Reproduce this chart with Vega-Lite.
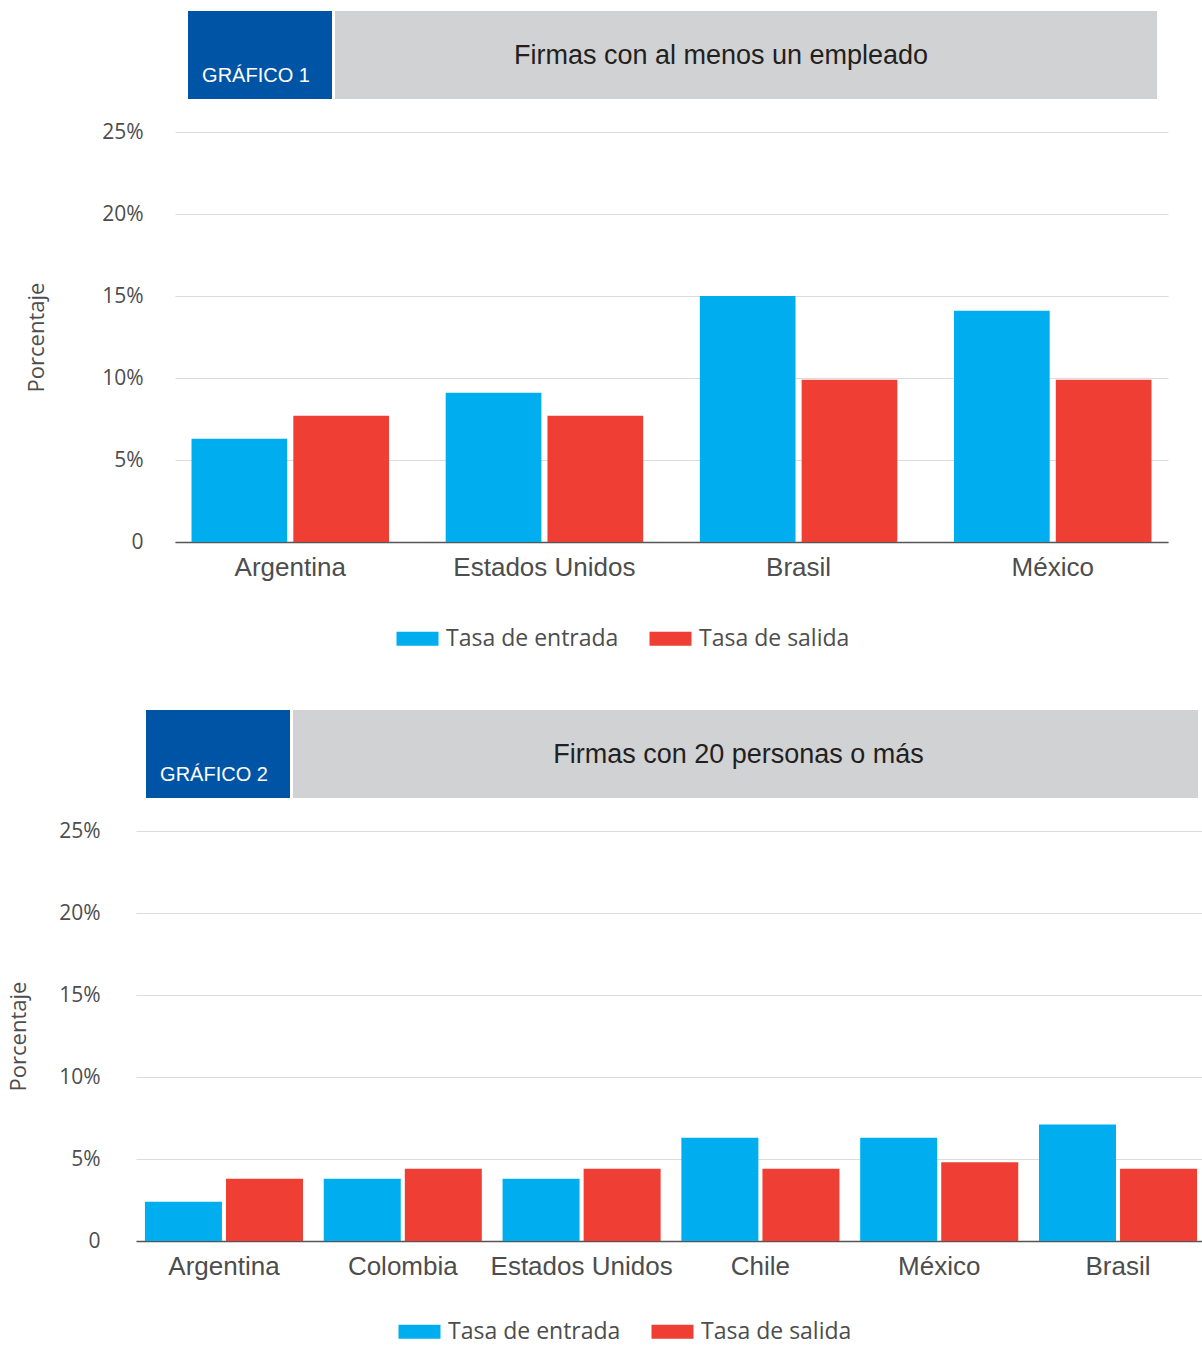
{
  "$schema": "https://vega.github.io/schema/vega-lite/v6.json",
  "background": "white",
  "padding": {"top": 11, "left": 0, "right": 0, "bottom": 0},
  "config": {"view": {"stroke": null}, "font": "Open Sans"},
  "datasets": {
    "g1": [
      {"pais": "Argentina", "serie": "Tasa de entrada", "valor": 6.3},
      {"pais": "Argentina", "serie": "Tasa de salida", "valor": 7.7},
      {"pais": "Estados Unidos", "serie": "Tasa de entrada", "valor": 9.1},
      {"pais": "Estados Unidos", "serie": "Tasa de salida", "valor": 7.7},
      {"pais": "Brasil", "serie": "Tasa de entrada", "valor": 15.0},
      {"pais": "Brasil", "serie": "Tasa de salida", "valor": 9.9},
      {"pais": "México", "serie": "Tasa de entrada", "valor": 14.1},
      {"pais": "México", "serie": "Tasa de salida", "valor": 9.9}
    ],
    "g2": [
      {"pais": "Argentina", "serie": "Tasa de entrada", "valor": 2.4},
      {"pais": "Argentina", "serie": "Tasa de salida", "valor": 3.8},
      {"pais": "Colombia", "serie": "Tasa de entrada", "valor": 3.8},
      {"pais": "Colombia", "serie": "Tasa de salida", "valor": 4.4},
      {"pais": "Estados Unidos", "serie": "Tasa de entrada", "valor": 3.8},
      {"pais": "Estados Unidos", "serie": "Tasa de salida", "valor": 4.4},
      {"pais": "Chile", "serie": "Tasa de entrada", "valor": 6.3},
      {"pais": "Chile", "serie": "Tasa de salida", "valor": 4.4},
      {"pais": "México", "serie": "Tasa de entrada", "valor": 6.3},
      {"pais": "México", "serie": "Tasa de salida", "valor": 4.8},
      {"pais": "Brasil", "serie": "Tasa de entrada", "valor": 7.1},
      {"pais": "Brasil", "serie": "Tasa de salida", "valor": 4.4}
    ],
    "h1": [{"t": "GRÁFICO 1"}],
    "t1": [{"t": "Firmas con al menos un empleado"}],
    "h2": [{"t": "GRÁFICO 2"}],
    "t2": [{"t": "Firmas con 20 personas o más"}],
    "blank": []
  },
  "resolve": {"scale": {"color": "independent", "xOffset": "independent", "x": "independent", "y": "independent"}, "legend": {"color": "independent"}},
  "spacing": 59,
  "vconcat": [
    {
      "spacing": 0,
      "resolve": {"scale": {"color": "independent", "xOffset": "independent"}, "legend": {"color": "independent"}},
      "hconcat": [
        {"width": 25, "height": 1, "data": {"name": "blank"}, "mark": {"type": "point", "opacity": 0}, "encoding": {}},
        {
          "spacing": 22,
          "resolve": {"scale": {"color": "independent", "xOffset": "independent"}, "legend": {"color": "independent"}},
          "vconcat": [
            {
              "spacing": 3,
              "hconcat": [
                {"width": 10, "height": 88, "data": {"name": "blank"}, "mark": {"type": "point", "opacity": 0}, "encoding": {}},
                {"width": 144, "height": 88, "view": {"fill": "#0054a6", "stroke": null}, "data": {"name": "h1"},
                 "mark": {"type": "text", "color": "white", "font": "Liberation Sans", "fontSize": 20, "dx": -4, "dy": 21},
                 "encoding": {"text": {"field": "t"}}},
                {"width": 822, "height": 88, "view": {"fill": "#d1d2d4", "stroke": null}, "data": {"name": "t1"},
                 "mark": {"type": "text", "color": "#231f20", "font": "Liberation Sans", "fontSize": 27, "dx": -25, "dy": 1},
                 "encoding": {"text": {"field": "t"}}}
              ]
            },
            {
              "width": 993, "height": 410,
              "data": {"name": "g1"},
              "mark": {"type": "bar"},
              "encoding": {
                "x": {"field": "pais", "type": "nominal", "sort": ["Argentina", "Estados Unidos", "Brasil", "México"],
                      "scale": {"paddingInner": 0.223, "paddingOuter": 0.065},
                      "axis": {"title": null, "labelAngle": 0, "labelFont": "Liberation Sans", "labelFontSize": 26, "labelColor": "#4d4d4d", "labelPadding": 12, "labelLimit": 400, "ticks": false, "domainColor": "#555555", "domainWidth": 1.5, "grid": false}},
                "xOffset": {"field": "serie", "type": "nominal", "sort": ["Tasa de entrada", "Tasa de salida"], "scale": {"paddingInner": 0.06}},
                "y": {"field": "valor", "type": "quantitative", "scale": {"domain": [0, 25]},
                      "axis": {"title": "Porcentaje", "values": [0, 5, 10, 15, 20, 25], "labelExpr": "datum.value == 0 ? '0' : datum.value + '%'",
                               "labelFont": "Open Sans", "labelFontSize": 21, "labelColor": "#4d4d4d", "labelPadding": 32, "ticks": false, "domain": false,
                               "gridColor": "#dcdcdc", "gridWidth": 1.2,
                               "titleFont": "Open Sans", "titleFontSize": 22, "titleFontWeight": "normal", "titleColor": "#4d4d4d", "titlePadding": 53}},
                "color": {"field": "serie", "type": "nominal", "sort": ["Tasa de entrada", "Tasa de salida"],
                          "scale": {"domain": ["Tasa de entrada", "Tasa de salida"], "range": ["#00aeef", "#ef3e33"]},
                          "legend": {"title": null, "orient": "none", "direction": "horizontal", "legendX": 231, "legendY": 495, "padding": 0,
                                     "symbolType": "M-3,-1H3V1H-3Z", "symbolSize": 196, "symbolStrokeWidth": 0, "symbolOpacity": 1,
                                     "labelFont": "Open Sans", "labelFontSize": 23, "labelColor": "#4d4d4d", "labelOffset": 17, "labelLimit": 400, "columnPadding": 30}}
              }
            }
          ]
        }
      ]
    },
    {
      "spacing": 0,
      "resolve": {"scale": {"color": "independent", "xOffset": "independent"}, "legend": {"color": "independent"}},
      "hconcat": [
        {"width": 7, "height": 1, "data": {"name": "blank"}, "mark": {"type": "point", "opacity": 0}, "encoding": {}},
        {
          "spacing": 22,
          "resolve": {"scale": {"color": "independent", "xOffset": "independent"}, "legend": {"color": "independent"}},
          "vconcat": [
            {
              "spacing": 3,
              "hconcat": [
                {"width": 7, "height": 88, "data": {"name": "blank"}, "mark": {"type": "point", "opacity": 0}, "encoding": {}},
                {"width": 144, "height": 88, "view": {"fill": "#0054a6", "stroke": null}, "data": {"name": "h2"},
                 "mark": {"type": "text", "color": "white", "font": "Liberation Sans", "fontSize": 20, "dx": -4, "dy": 21},
                 "encoding": {"text": {"field": "t"}}},
                {"width": 905, "height": 88, "view": {"fill": "#d1d2d4", "stroke": null}, "data": {"name": "t2"},
                 "mark": {"type": "text", "color": "#231f20", "font": "Liberation Sans", "fontSize": 27, "dx": -7, "dy": 1},
                 "encoding": {"text": {"field": "t"}}}
              ]
            },
            {
              "width": 1070, "height": 410,
              "data": {"name": "g2"},
              "mark": {"type": "bar"},
              "encoding": {
                "x": {"field": "pais", "type": "nominal", "sort": ["Argentina", "Colombia", "Estados Unidos", "Chile", "México", "Brasil"],
                      "scale": {"paddingInner": 0.116, "paddingOuter": 0.05},
                      "axis": {"title": null, "labelAngle": 0, "labelFont": "Liberation Sans", "labelFontSize": 26, "labelColor": "#4d4d4d", "labelPadding": 12, "labelLimit": 400, "ticks": false, "domainColor": "#555555", "domainWidth": 1.5, "grid": false}},
                "xOffset": {"field": "serie", "type": "nominal", "sort": ["Tasa de entrada", "Tasa de salida"], "scale": {"paddingInner": 0.05}},
                "y": {"field": "valor", "type": "quantitative", "scale": {"domain": [0, 25]},
                      "axis": {"title": "Porcentaje", "values": [0, 5, 10, 15, 20, 25], "labelExpr": "datum.value == 0 ? '0' : datum.value + '%'",
                               "labelFont": "Open Sans", "labelFontSize": 21, "labelColor": "#4d4d4d", "labelPadding": 36, "ticks": false, "domain": false,
                               "gridColor": "#dcdcdc", "gridWidth": 1.2,
                               "titleFont": "Open Sans", "titleFontSize": 22, "titleFontWeight": "normal", "titleColor": "#4d4d4d", "titlePadding": 28}},
                "color": {"field": "serie", "type": "nominal", "sort": ["Tasa de entrada", "Tasa de salida"],
                          "scale": {"domain": ["Tasa de entrada", "Tasa de salida"], "range": ["#00aeef", "#ef3e33"]},
                          "legend": {"title": null, "orient": "none", "direction": "horizontal", "legendX": 272, "legendY": 489, "padding": 0,
                                     "symbolType": "M-3,-1H3V1H-3Z", "symbolSize": 196, "symbolStrokeWidth": 0, "symbolOpacity": 1,
                                     "labelFont": "Open Sans", "labelFontSize": 23, "labelColor": "#4d4d4d", "labelOffset": 17, "labelLimit": 400, "columnPadding": 30}}
              }
            }
          ]
        }
      ]
    }
  ]
}
